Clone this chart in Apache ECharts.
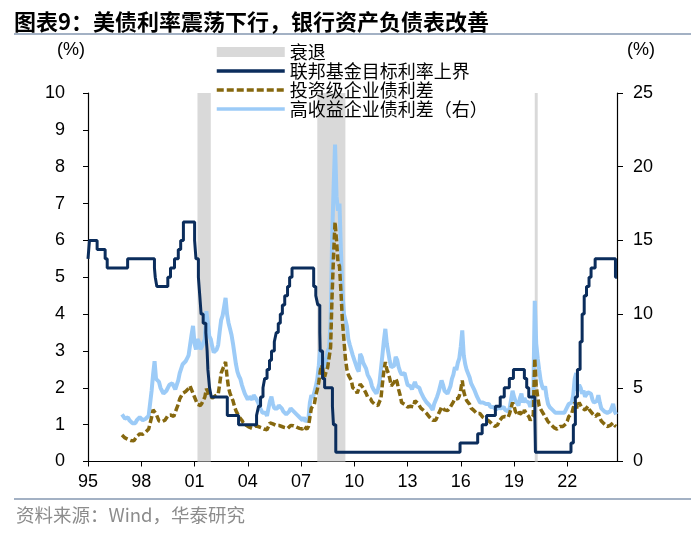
<!DOCTYPE html>
<html><head><meta charset="utf-8">
<script src="https://cdn.jsdelivr.net/npm/echarts@6/dist/echarts.min.js"></script>
<style>html,body{margin:0;padding:0;background:#fff}#c{width:700px;height:535px}</style>
</head><body><div id="c"></div>
<script>
// ---------- text ----------
const titleText = '图表9：美债利率震荡下行，银行资产负债表改善';
const sourceText = '资料来源：Wind，华泰研究';
const leftUnit = '(%)';
const rightUnit = '(%)';
const seriesNames = ['衰退', '联邦基金目标利率上界', '投资级企业债利差', '高收益企业债利差（右）'];

// ---------- axes ----------
const xTickYears = [1995, 1998, 2001, 2004, 2007, 2010, 2013, 2016, 2019, 2022];
const xMin = 1995, xMax = 2024.8;
const leftTicks = [0, 1, 2, 3, 4, 5, 6, 7, 8, 9, 10];
const rightTicks = [0, 5, 10, 15, 20, 25];

// ---------- recessions (start month, end month inclusive) ----------
const recessions = [['2001-03', '2001-11'], ['2007-12', '2009-06'], ['2020-03', '2020-04']];

// ---------- Fed funds target upper bound: change dates and levels (%) ----------
const fedDates = ['1995-01-01','1995-02-01','1995-07-06','1995-12-19','1996-01-31','1997-03-25',
 '1998-09-29','1998-10-15','1998-11-17','1999-06-30','1999-08-24','1999-11-16','2000-02-02',
 '2000-03-21','2000-05-16','2001-01-03','2001-01-31','2001-03-20','2001-04-18','2001-05-15',
 '2001-06-27','2001-08-21','2001-09-17','2001-10-02','2001-11-06','2001-12-11','2002-11-06',
 '2003-06-25','2004-06-30','2004-08-10','2004-09-21','2004-11-10','2004-12-14','2005-02-02',
 '2005-03-22','2005-05-03','2005-06-30','2005-08-09','2005-09-20','2005-11-01','2005-12-13',
 '2006-01-31','2006-03-28','2006-05-10','2006-06-29','2007-09-18','2007-10-31','2007-12-11',
 '2008-01-22','2008-01-30','2008-03-18','2008-04-30','2008-10-08','2008-10-29','2008-12-16',
 '2015-12-16','2016-12-14','2017-03-15','2017-06-14','2017-12-13','2018-03-21','2018-06-13',
 '2018-09-26','2018-12-19','2019-07-31','2019-09-18','2019-10-30','2020-03-03','2020-03-15',
 '2022-03-16','2022-05-04','2022-06-15','2022-07-27','2022-09-21','2022-11-02','2022-12-14',
 '2023-02-01','2023-03-22','2023-05-03','2023-07-26','2024-09-18','2024-10-18'];
const fedRates = [5.5,6.0,5.75,5.5,5.25,5.5,
 5.25,5.0,4.75,5.0,5.25,5.5,5.75,
 6.0,6.5,6.0,5.5,5.0,4.5,4.0,
 3.75,3.5,3.0,2.5,2.0,1.75,1.25,
 1.0,1.25,1.5,1.75,2.0,2.25,2.5,
 2.75,3.0,3.25,3.5,3.75,4.0,4.25,
 4.5,4.75,5.0,5.25,4.75,4.5,4.25,
 3.5,3.0,2.25,2.0,1.5,1.0,0.25,
 0.5,0.75,1.0,1.25,1.5,1.75,2.0,
 2.25,2.5,2.25,2.0,1.75,1.25,0.25,
 0.5,1.0,1.75,2.5,3.25,4.0,4.5,
 4.75,5.0,5.25,5.5,5.0,5.0];

// ---------- monthly spreads, starting Dec 1996 (%) ----------
const spreadStart = '1996-12';
const igSpread = [0.72,
 0.68,0.64,0.62,0.60,0.58,0.57,0.58,0.56,0.60,0.68,0.72,0.75,
 0.76,0.74,0.78,0.80,0.85,0.88,0.92,1.20,1.40,1.45,1.30,1.20,
 1.10,1.05,1.08,1.04,1.12,1.18,1.25,1.30,1.26,1.28,1.22,1.20,
 1.45,1.55,1.70,1.75,1.85,1.85,1.90,1.95,1.98,2.05,2.00,1.85,
 1.75,1.65,1.55,1.60,1.52,1.58,1.62,1.75,1.97,1.90,1.80,1.75,
 1.72,1.75,1.78,1.80,1.82,2.10,2.40,2.35,2.60,2.70,2.30,2.00,
 1.85,1.75,1.65,1.50,1.38,1.30,1.22,1.20,1.12,1.05,1.00,0.98,
 0.95,0.93,0.92,0.90,0.95,0.96,0.94,0.95,0.93,0.92,0.90,0.88,
 0.88,0.86,0.95,1.05,1.10,1.02,0.98,0.98,0.96,0.98,0.96,0.95,
 0.94,0.92,0.91,0.90,0.93,0.98,1.00,0.97,0.96,0.93,0.92,0.90,
 0.90,0.88,0.95,0.90,0.88,0.95,1.20,1.45,1.50,1.55,1.80,1.95,
 2.15,2.45,2.62,2.45,2.30,2.45,2.55,2.50,3.10,4.50,5.60,6.50,
 6.00,5.40,5.30,4.60,3.80,3.30,2.80,2.50,2.35,2.30,2.20,2.00,
 1.95,1.95,1.85,1.80,2.10,2.15,2.00,1.95,1.85,1.75,1.78,1.70,
 1.62,1.58,1.55,1.50,1.52,1.62,1.70,2.10,2.45,2.70,2.50,2.40,
 2.25,2.05,2.00,2.15,2.25,2.15,1.95,1.80,1.60,1.55,1.55,1.50,
 1.48,1.50,1.50,1.52,1.48,1.65,1.60,1.58,1.55,1.45,1.40,1.38,
 1.35,1.30,1.25,1.20,1.15,1.12,1.10,1.12,1.20,1.30,1.38,1.48,
 1.45,1.40,1.42,1.38,1.40,1.48,1.55,1.62,1.70,1.68,1.70,1.78,
 1.95,2.20,1.90,1.75,1.65,1.65,1.55,1.45,1.40,1.38,1.35,1.30,
 1.35,1.30,1.25,1.20,1.18,1.15,1.12,1.10,1.05,1.02,0.98,0.95,
 0.92,1.00,1.10,1.15,1.20,1.25,1.22,1.25,1.20,1.30,1.45,1.60,
 1.50,1.35,1.30,1.25,1.35,1.32,1.25,1.40,1.32,1.30,1.22,1.12,
 1.10,1.25,2.80,2.05,1.75,1.50,1.42,1.35,1.30,1.22,1.15,1.08,
 1.05,1.00,0.98,0.92,0.90,0.88,0.92,0.95,0.92,0.95,1.00,1.02,
 1.10,1.22,1.20,1.30,1.45,1.60,1.65,1.45,1.60,1.55,1.45,1.42,
 1.40,1.35,1.50,1.40,1.38,1.30,1.25,1.22,1.25,1.30,1.18,1.10,
 1.05,1.02,0.98,0.95,0.95,0.98,0.98,1.05,0.98,0.95];
const hySpread = [3.2,
 3.1,2.9,3.0,3.0,2.8,2.7,2.6,2.7,2.6,2.8,2.9,3.0,
 2.9,2.8,2.8,2.9,3.0,3.1,3.1,4.8,5.9,6.8,5.6,5.6,
 5.4,5.0,4.8,4.6,4.7,4.8,4.9,5.2,5.1,5.3,5.1,4.9,
 5.2,5.5,6.0,6.3,6.6,6.5,6.8,7.0,7.2,7.9,8.6,9.2,
 8.0,7.6,8.3,8.1,7.6,7.8,7.9,8.3,10.2,9.4,8.5,8.3,
 7.8,7.4,7.3,7.6,7.9,8.8,9.6,9.9,10.5,11.1,10.0,9.4,
 9.0,8.6,8.0,7.3,6.6,6.1,5.8,5.6,5.2,4.9,4.6,4.4,
 4.2,4.4,4.4,4.2,4.5,4.4,4.2,4.0,3.7,3.5,3.3,3.2,
 3.3,3.1,3.6,4.1,4.4,3.9,3.6,3.7,3.6,3.8,3.7,3.6,
 3.4,3.3,3.2,3.2,3.4,3.6,3.6,3.4,3.4,3.2,3.1,3.0,
 2.9,2.8,3.0,2.7,2.6,2.9,4.0,4.5,4.3,4.2,5.1,5.6,
 6.5,7.6,7.6,6.8,6.3,6.8,7.5,7.7,9.5,15.0,18.5,21.5,
 18.0,17.0,17.5,14.2,11.5,10.0,9.6,9.2,8.3,7.9,8.0,7.2,
 6.9,6.8,6.3,6.1,7.3,7.1,6.7,6.6,6.3,5.9,6.0,5.5,
 5.1,4.9,4.8,4.6,4.9,5.3,5.2,7.2,8.2,9.0,8.0,7.4,
 6.8,6.4,6.3,6.5,7.1,6.9,6.4,6.1,5.9,5.8,6.0,5.6,
 5.2,5.3,5.1,4.9,4.8,5.4,5.1,5.0,5.0,4.7,4.5,4.3,
 4.2,4.0,3.9,3.8,3.7,3.5,3.9,4.0,4.4,4.7,4.8,5.5,
 5.2,4.8,4.9,4.6,4.6,5.1,5.6,5.9,6.4,6.2,6.7,7.0,
 7.8,8.9,7.2,6.6,6.2,6.2,5.7,5.3,5.2,4.9,4.8,4.4,
 4.3,4.0,4.1,4.0,3.9,3.9,3.8,3.9,3.7,3.6,3.7,3.7,
 3.5,3.7,3.7,3.6,3.6,3.7,3.5,3.4,3.4,3.6,4.2,4.8,
 4.4,4.1,4.0,3.8,4.3,4.6,4.0,4.3,4.1,4.2,4.0,3.7,
 3.8,4.3,10.9,8.0,7.0,6.2,5.5,5.1,4.9,5.1,4.4,3.9,
 3.7,3.6,3.5,3.4,3.3,3.3,3.3,3.2,3.3,3.2,3.3,3.3,
 3.7,3.9,3.8,4.0,4.5,5.6,6.0,4.8,5.2,5.0,4.6,4.8,
 4.4,4.3,4.7,4.6,4.6,4.2,4.0,4.0,4.1,4.5,4.0,3.6,
 3.6,3.4,3.3,3.3,3.3,3.4,3.3,3.9,3.4,3.2];

// ---------- helpers ----------
function monthToYear(s, endOfMonth) {
  const p = s.split('-').map(Number);
  return p[0] + (p[1] - (endOfMonth ? 0 : 1)) / 12;
}
function dateToYear(s) {
  const p = s.split('-').map(Number);
  return p[0] + (p[1] - 1) / 12 + (p[2] - 1) / 365;
}
const s0 = monthToYear(spreadStart, false);
const igData = igSpread.map((v, i) => [s0 + i / 12, v]);
const hyData = hySpread.map((v, i) => [s0 + i / 12, v]);
const fedData = fedDates.map((d, i) => [dateToYear(d), fedRates[i]]);
const recAreas = recessions.map(r => [{ xAxis: monthToYear(r[0], false) }, { xAxis: monthToYear(r[1], true) }]);

const C_FED = '#0b2d5c', C_IG = '#86680f', C_HY = '#9ccbf7', C_REC = '#d9d9d9';
const NUM_FONT = '"Liberation Sans", Arial, sans-serif';
const CJK_FONT = '"Noto Sans CJK SC", sans-serif';

const chart = echarts.init(document.getElementById('c'), null, { renderer: 'canvas' });
chart.setOption({
  animation: false,
  backgroundColor: '#fff',
  title: {
    text: titleText, left: 9, top: 6,
    textStyle: { fontFamily: CJK_FONT, fontSize: 22, fontWeight: 'bold', color: '#000' }
  },
  graphic: [
    { type: 'line', shape: { x1: 14, y1: 34, x2: 691, y2: 34 }, style: { stroke: '#8497b0', lineWidth: 1.5 } },
    { type: 'line', shape: { x1: 14, y1: 499, x2: 691, y2: 499 }, style: { stroke: '#8497b0', lineWidth: 1.5 } },
    { type: 'text', left: 16, top: 506, style: { text: sourceText, font: '18.5px ' + CJK_FONT, fill: '#8c8c8c' } },
    { type: 'text', x: 71, y: 50, style: { text: leftUnit, font: '18px ' + NUM_FONT, fill: '#000', align: 'center', verticalAlign: 'middle' } },
    { type: 'text', x: 641, y: 50, style: { text: rightUnit, font: '18px ' + NUM_FONT, fill: '#000', align: 'center', verticalAlign: 'middle' } }
  ],
  legend: {
    orient: 'vertical', left: 210, top: 38,
    itemWidth: 68, itemHeight: 10, itemGap: 1,
    itemStyle: { opacity: 0 },
    lineStyle: { width: 3.5 },
    textStyle: { fontFamily: CJK_FONT, fontSize: 18, color: '#000', lineHeight: 17 },
    data: [
      { name: seriesNames[0], icon: 'rect', itemStyle: { opacity: 1, color: C_REC } },
      { name: seriesNames[1] },
      { name: seriesNames[2] },
      { name: seriesNames[3] }
    ]
  },
  grid: { left: 88, right: 83, top: 93, bottom: 73.5, containLabel: false },
  xAxis: {
    type: 'value', min: xMin, max: xMax, interval: 3,
    axisLine: { show: true, lineStyle: { color: '#000', width: 1.2 } },
    axisTick: { show: true, length: 5, lineStyle: { color: '#000' } },
    splitLine: { show: false },
    axisLabel: {
      margin: 12, fontFamily: NUM_FONT, fontSize: 18, color: '#000',
      showMaxLabel: false,
      formatter: v => {
        const y = Math.round(v);
        return (Math.abs(v - y) < 1e-6 && xTickYears.indexOf(y) >= 0) ? String(y % 100).padStart(2, '0') : '';
      }
    }
  },
  yAxis: [
    {
      type: 'value', min: leftTicks[0], max: leftTicks[leftTicks.length - 1], interval: leftTicks[1] - leftTicks[0],
      position: 'left',
      axisLine: { show: true, lineStyle: { color: '#000', width: 1.2 } },
      axisTick: { show: true, length: 5, lineStyle: { color: '#000' } },
      splitLine: { show: false },
      axisLabel: { margin: 23, fontFamily: NUM_FONT, fontSize: 18, color: '#000' }
    },
    {
      type: 'value', min: rightTicks[0], max: rightTicks[rightTicks.length - 1], interval: rightTicks[1] - rightTicks[0],
      position: 'right',
      axisLine: { show: true, lineStyle: { color: '#000', width: 1.2 } },
      axisTick: { show: true, length: 6, lineStyle: { color: '#000' } },
      splitLine: { show: false },
      axisLabel: { margin: 16, fontFamily: NUM_FONT, fontSize: 18, color: '#000' }
    }
  ],
  series: [
    {
      name: seriesNames[0], type: 'line', data: [], color: C_REC,
      itemStyle: { color: C_REC }, lineStyle: { color: C_REC },
      markArea: { silent: true, itemStyle: { color: C_REC, opacity: 1 }, data: recAreas }
    },
    {
      name: seriesNames[3], type: 'line', yAxisIndex: 1, data: hyData, showSymbol: false, symbol: 'none',
      color: C_HY, lineStyle: { color: C_HY, width: 4 }
    },
    {
      name: seriesNames[2], type: 'line', yAxisIndex: 0, data: igData, showSymbol: false, symbol: 'none',
      color: C_IG, lineStyle: { color: C_IG, width: 3.5, type: [7, 3] }
    },
    {
      name: seriesNames[1], type: 'line', yAxisIndex: 0, data: fedData, step: 'end', showSymbol: false, symbol: 'none',
      color: C_FED, lineStyle: { color: C_FED, width: 3 }
    }
  ]
});
</script>
</body></html>
